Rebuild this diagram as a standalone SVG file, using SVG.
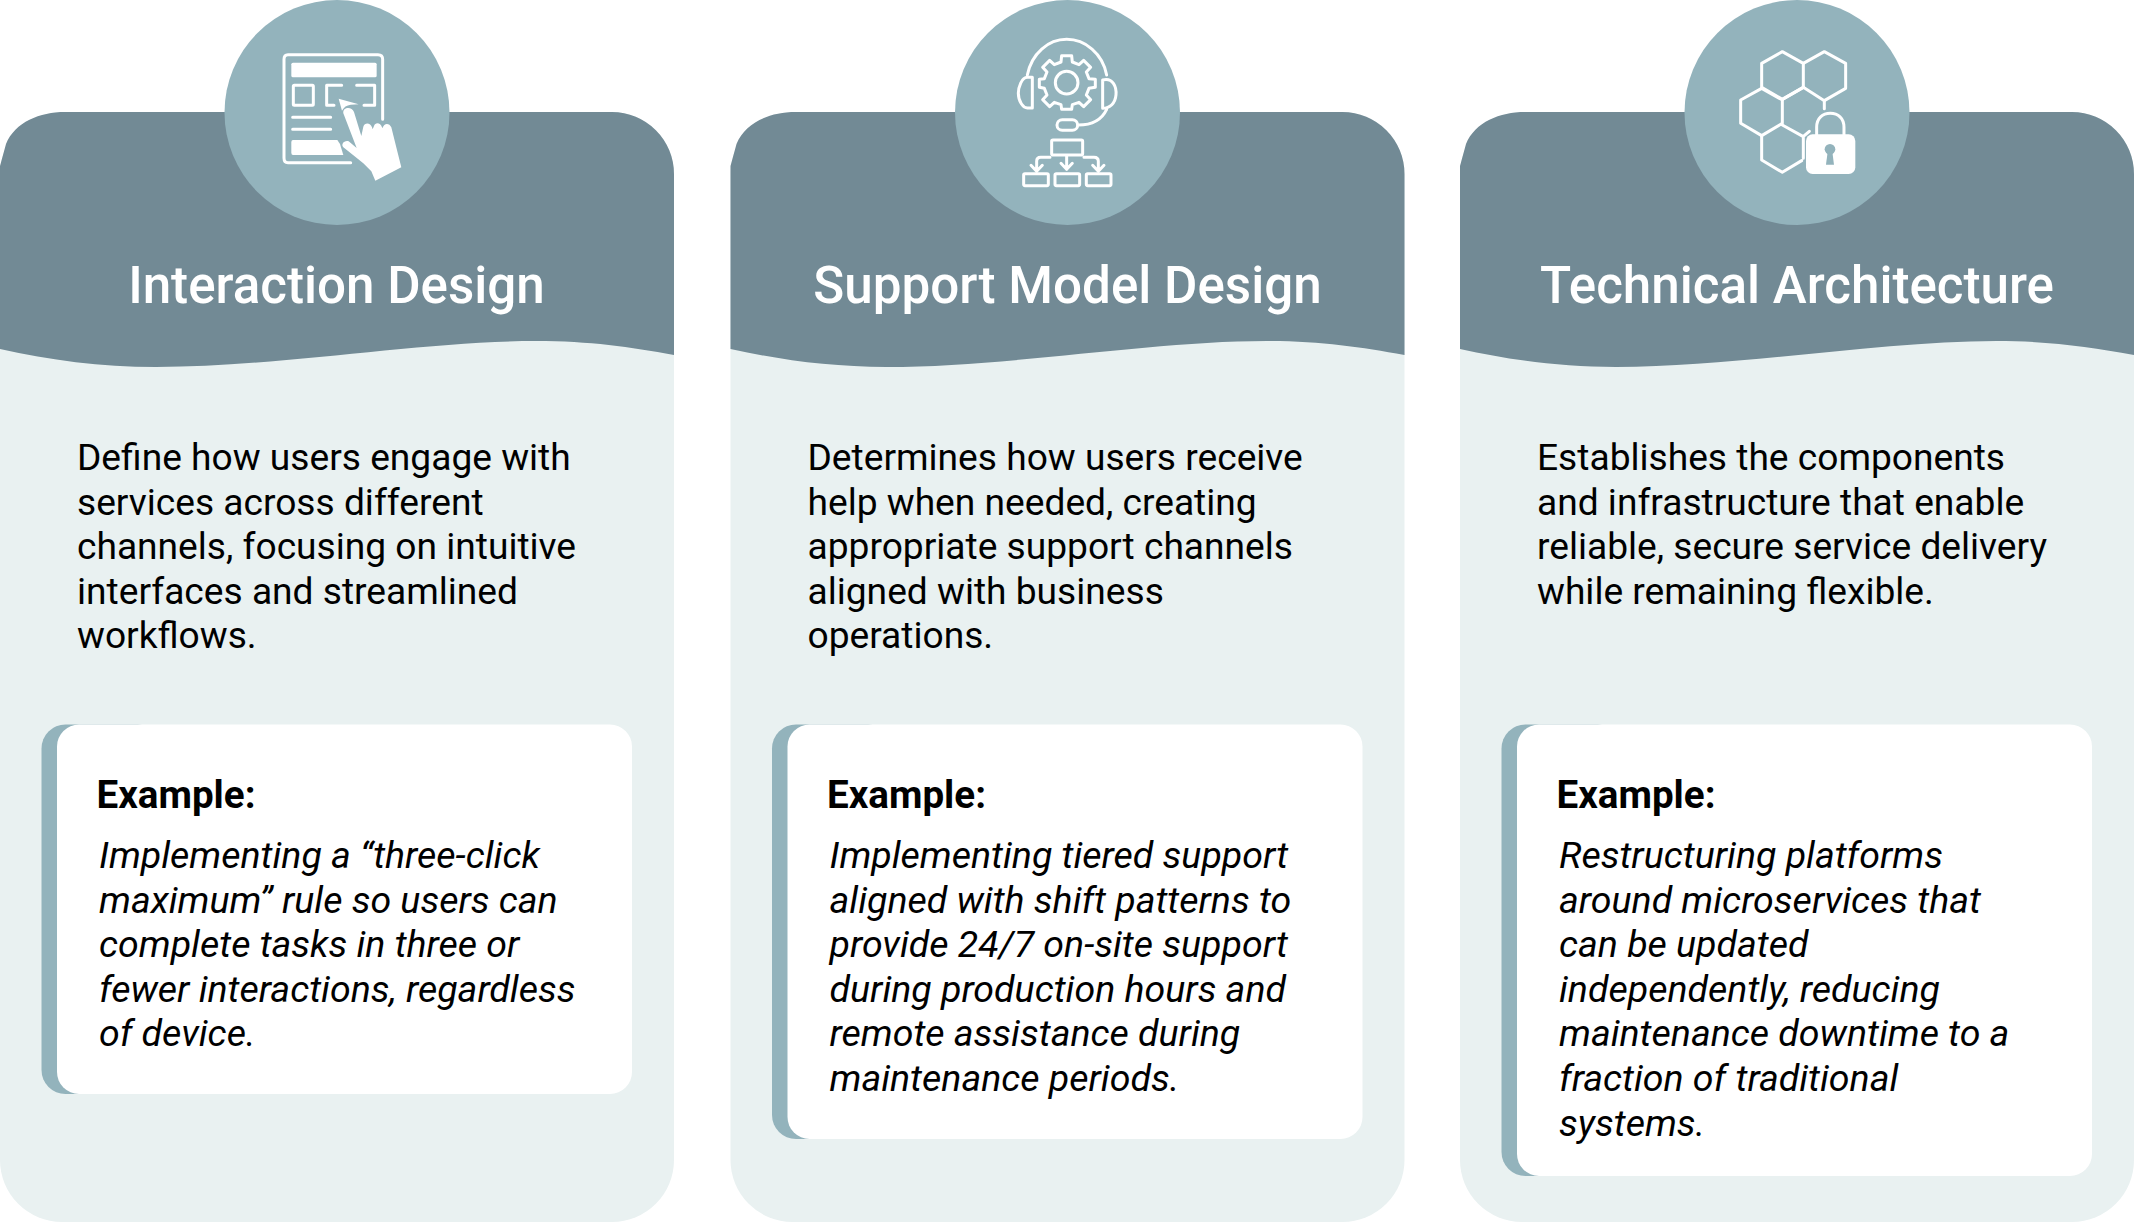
<svg xmlns="http://www.w3.org/2000/svg" width="2134" height="1224" viewBox="0 0 2134 1224">
<style>
text{font-family:Roboto,"Liberation Sans",sans-serif;fill:#000}
.t{font-size:51.150px;font-weight:500;fill:#fff;text-anchor:middle}
.b{font-size:37.150px}
.e{font-size:38.600px;font-weight:700}
.i{font-size:37.500px;font-style:italic}
.bg{fill:#e9f1f1}
.hd{fill:#728a95}
.cr,.bar{fill:#93b3bc}
.wh{fill:#fff}
.ln{fill:none;stroke:#fff;stroke-width:9;stroke-linejoin:round;stroke-linecap:round}
.fl{fill:#fff;stroke:none}
</style>
<defs>
<g id="card">
<rect class="bg" x="0" y="112" width="674" height="1110" rx="62"/>
<path class="hd" d="M0 349C50 360 100 367 156 367C280 367 420 341 536 341C590 341 630 347 674 355V174A62 62 0 0 0 612 112H65C40 112 15 122 6 144L0 166Z"/>
<circle class="cr" cx="337" cy="112.500" r="112.500"/>
</g>
</defs>
<rect width="2134" height="1224" fill="#fff"/>

<g id="interaction-design">
<use href="#card"/>
<g transform="translate(260 30) scale(.3333)">
<path class="ln" d="M368 268V88Q368 74 354 74H84Q72 74 72 88V384Q72 398 84 398H272"/>
<rect class="fl" x="94" y="98" width="256" height="44" rx="5"/>
<rect class="ln" x="100" y="166" width="60" height="60" rx="3"/>
<path class="ln" d="M245 166H200V226H222M290 166H344V226H312"/>
<path class="ln" d="M98 262H212M98 298H212"/>
<path class="fl" d="M99 330H232L240 342L250 375H99Q94 375 94 368V336Q94 330 99 330Z"/>
<path class="fl" d="M236 206L296 223L272 224Q254 226 246 242Z"/>
<path class="fl" d="M250 250C247 232 275 228 282 246L304 318L310 290C314 276 332 278 336 292L338 298L342 288C346 276 362 278 366 292L368 294C372 278 388 278 394 292L414 372L424 412L346 452L334 424L310 400L250 352C242 344 252 330 266 334L290 354Z"/>
</g>
<text class="t" x="336.500" y="303">Interaction Design</text>
<text class="b"><tspan x="77" y="470">Define how users engage with</tspan><tspan x="77" y="514.600">services across different</tspan><tspan x="77" y="559.200">channels, focusing on intuitive</tspan><tspan x="77" y="603.800">interfaces and streamlined</tspan><tspan x="77" y="648.400">workflows.</tspan></text>
<rect class="bar" x="41.500" y="724.500" width="120" height="369.500" rx="24"/>
<rect class="wh" x="57" y="724.500" width="575" height="369.500" rx="22"/>
<text class="e" x="96.500" y="808">Example:</text>
<text class="i"><tspan x="99" y="868">Implementing a “three-click</tspan><tspan x="99" y="912.600">maximum” rule so users can</tspan><tspan x="99" y="957.200">complete tasks in three or</tspan><tspan x="99" y="1001.800">fewer interactions, regardless</tspan><tspan x="99" y="1046.400">of device.</tspan></text>
</g>

<g id="support-model-design" transform="translate(730.500 0)">
<use href="#card"/>
<g transform="translate(219.500 0) scale(.3333)">
<path class="ln" d="M232 225C245 160 295 118 350 118C405 118 458 160 470 225"/>
<path class="ln" d="M247 232H232C215 232 205 262 205 280C205 305 220 324 232 324H247Z"/>
<path class="ln" d="M458 240C490 232 500 262 498 285C496 310 480 325 458 325Z"/>
<path class="ln" d="M470 328C455 360 425 375 385 375"/>
<rect class="ln" x="321" y="359" width="62" height="32" rx="16"/>
<circle class="ln" cx="350" cy="248" r="34"/>
<path class="ln" d="M335 167H365L367 186L387 194L401 181L422 202L409 216L417 236L436 238V262L417 265L409 285L422 299L401 320L387 307L367 314L365 328H335L333 314L313 307L299 320L278 299L291 285L283 265L268 262V238L283 236L291 216L278 202L299 181L313 194L333 186Z"/>
<rect class="ln" x="305" y="420" width="93" height="45" rx="4"/>
<path class="ln" d="M350 468V508M333 490L350 508L367 490"/>
<path class="ln" d="M300 472H272Q260 472 260 484V514M243 496L260 514L277 496"/>
<path class="ln" d="M402 472H432Q445 472 445 484V514M428 496L445 514L462 496"/>
<rect class="ln" x="221" y="521" width="74" height="36" rx="4"/>
<rect class="ln" x="315" y="521" width="74" height="36" rx="4"/>
<rect class="ln" x="409" y="521" width="74" height="36" rx="4"/>
</g>
<text class="t" x="337" y="303">Support Model Design</text>
<text class="b"><tspan x="77" y="470">Determines how users receive</tspan><tspan x="77" y="514.600">help when needed, creating</tspan><tspan x="77" y="559.200">appropriate support channels</tspan><tspan x="77" y="603.800">aligned with business</tspan><tspan x="77" y="648.400">operations.</tspan></text>
<rect class="bar" x="41.500" y="724.500" width="120" height="414.500" rx="24"/>
<rect class="wh" x="57" y="724.500" width="575" height="414.500" rx="22"/>
<text class="e" x="96.500" y="808">Example:</text>
<text class="i"><tspan x="99" y="868">Implementing tiered support</tspan><tspan x="99" y="912.600">aligned with shift patterns to</tspan><tspan x="99" y="957.200">provide 24/7 on-site support</tspan><tspan x="99" y="1001.800">during production hours and</tspan><tspan x="99" y="1046.400">remote assistance during</tspan><tspan x="99" y="1091">maintenance periods.</tspan></text>
</g>

<g id="technical-architecture" transform="translate(1460 0)">
<use href="#card"/>
<g transform="translate(240 30) scale(.3333)">
<path class="ln" d="M247 65L310 100V172L247 208L185 172V100Z"/>
<path class="ln" d="M310 100L373 65L437 100V175L373 212L310 172"/>
<path class="ln" d="M373 212V236"/>
<path class="ln" d="M185 175L247 210V280L185 317L122 280V210Z"/>
<path class="ln" d="M247 208L310 172M247 285L310 320M185 317V390L247 427L305 392M310 320V385M312 318L328 304"/>
<rect class="fl" x="318" y="313" width="148" height="119" rx="20"/>
<path class="ln" stroke-linecap="butt" d="M350 316V292C350 264 368 250 391 250C414 250 432 264 432 292V316"/>
<circle cx="390" cy="358" r="16" fill="#93b3bc"/>
<path d="M383 365H397L402 404H378Z" fill="#93b3bc"/>
</g>
<text class="t" x="337" y="303">Technical Architecture</text>
<text class="b"><tspan x="77" y="470">Establishes the components</tspan><tspan x="77" y="514.600">and infrastructure that enable</tspan><tspan x="77" y="559.200">reliable, secure service delivery</tspan><tspan x="77" y="603.800">while remaining flexible.</tspan></text>
<rect class="bar" x="41.500" y="724.500" width="120" height="451.500" rx="24"/>
<rect class="wh" x="57" y="724.500" width="575" height="451.500" rx="22"/>
<text class="e" x="96.500" y="808">Example:</text>
<text class="i"><tspan x="99" y="868">Restructuring platforms</tspan><tspan x="99" y="912.600">around microservices that</tspan><tspan x="99" y="957.200">can be updated</tspan><tspan x="99" y="1001.800">independently, reducing</tspan><tspan x="99" y="1046.400">maintenance downtime to a</tspan><tspan x="99" y="1091">fraction of traditional</tspan><tspan x="99" y="1135.600">systems.</tspan></text>
</g>
</svg>
